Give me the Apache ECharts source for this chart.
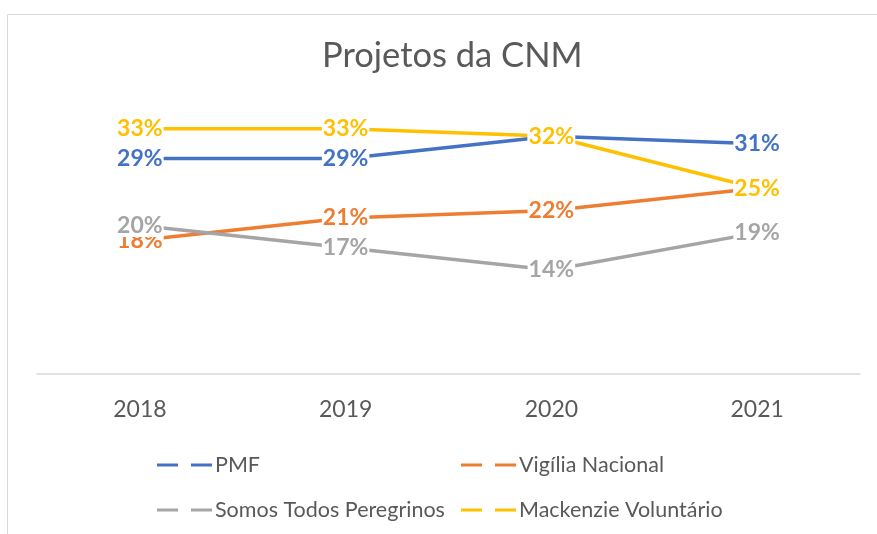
<!DOCTYPE html>
<html>
<head>
<meta charset="UTF-8">
<title>Projetos da CNM</title>
<script src="https://cdn.jsdelivr.net/npm/echarts@6/dist/echarts.min.js"></script>
<style>
  html, body { margin: 0; padding: 0; background: #fff; }
  #main { width: 877px; height: 534px; }
</style>
</head>
<body>
<div id="main"></div>
<script>
// dados (%)
var anos = ['2018', '2019', '2020', '2021'];
var nomes = ['PMF', 'Vigília Nacional', 'Somos Todos Peregrinos', 'Mackenzie Voluntário'];
var cores = ['#4472C4', '#ED7D31', '#A5A5A5', '#FFC000'];
var pmf = [29, 29, 32, 31];
var vigilia = [18, 21, 22, 25];
var somos = [20, 17, 14, 19];
var mackenzie = [33, 33, 32, 25];
var valores = [pmf, vigilia, somos, mackenzie];

var fonte = 'Lato';
var cinza = '#595959';

// posição das legendas (duas colunas)
var legPos = [[152, 449], [456, 449], [152, 494], [456, 494]];

var myChart = echarts.init(document.getElementById('main'));

var series = [];
var legends = [];
for (var i = 0; i < nomes.length; i++) {
    series.push({
        name: nomes[i],
        type: 'line',
        data: valores[i],
        symbol: 'circle',
        symbolSize: 0,
        lineStyle: { color: cores[i], width: 3.5 },
        itemStyle: { color: cores[i] },
        label: {
            show: true,
            position: 'inside',
            formatter: '{c}%',
            color: cores[i],
            fontFamily: fonte,
            fontWeight: 'bold',
            fontSize: 23,
            backgroundColor: '#fff',
            padding: [0, 1]
        },
        emphasis: { disabled: true }
    });
    legends.push({
        data: [nomes[i]],
        left: legPos[i][0],
        top: legPos[i][1],
        itemWidth: 55,
        itemHeight: 3,
        icon: 'path://M0,0H21V3H0Z M34,0H55V3H34Z',
        itemStyle: { color: cores[i] },
        selectedMode: false,
        textStyle: { color: cinza, fontFamily: fonte, fontSize: 21.5, padding: [0, 0, 0, -2] }
    });
}

var option = {
    animation: false,
    title: {
        text: 'Projetos da CNM',
        left: 317,
        top: 33,
        textStyle: { color: cinza, fontFamily: fonte, fontWeight: 'normal', fontSize: 34.5 }
    },
    graphic: [{
        type: 'rect',
        shape: { x: 7.5, y: 14.5, width: 1000, height: 1000 },
        style: { fill: 'none', stroke: '#d9d9d9', lineWidth: 1 }
    }],
    legend: legends,
    grid: { left: 37, right: 17, top: 114, bottom: 160 },
    xAxis: {
        type: 'category',
        data: anos,
        axisLine: { lineStyle: { color: '#d9d9d9', width: 1.5 } },
        axisTick: { show: false },
        axisLabel: { color: cinza, fontFamily: fonte, fontSize: 23, margin: 24 }
    },
    yAxis: {
        type: 'value',
        min: 0,
        max: 35,
        show: false,
        splitLine: { show: false }
    },
    series: series
};

myChart.setOption(option);
</script>
</body>
</html>
